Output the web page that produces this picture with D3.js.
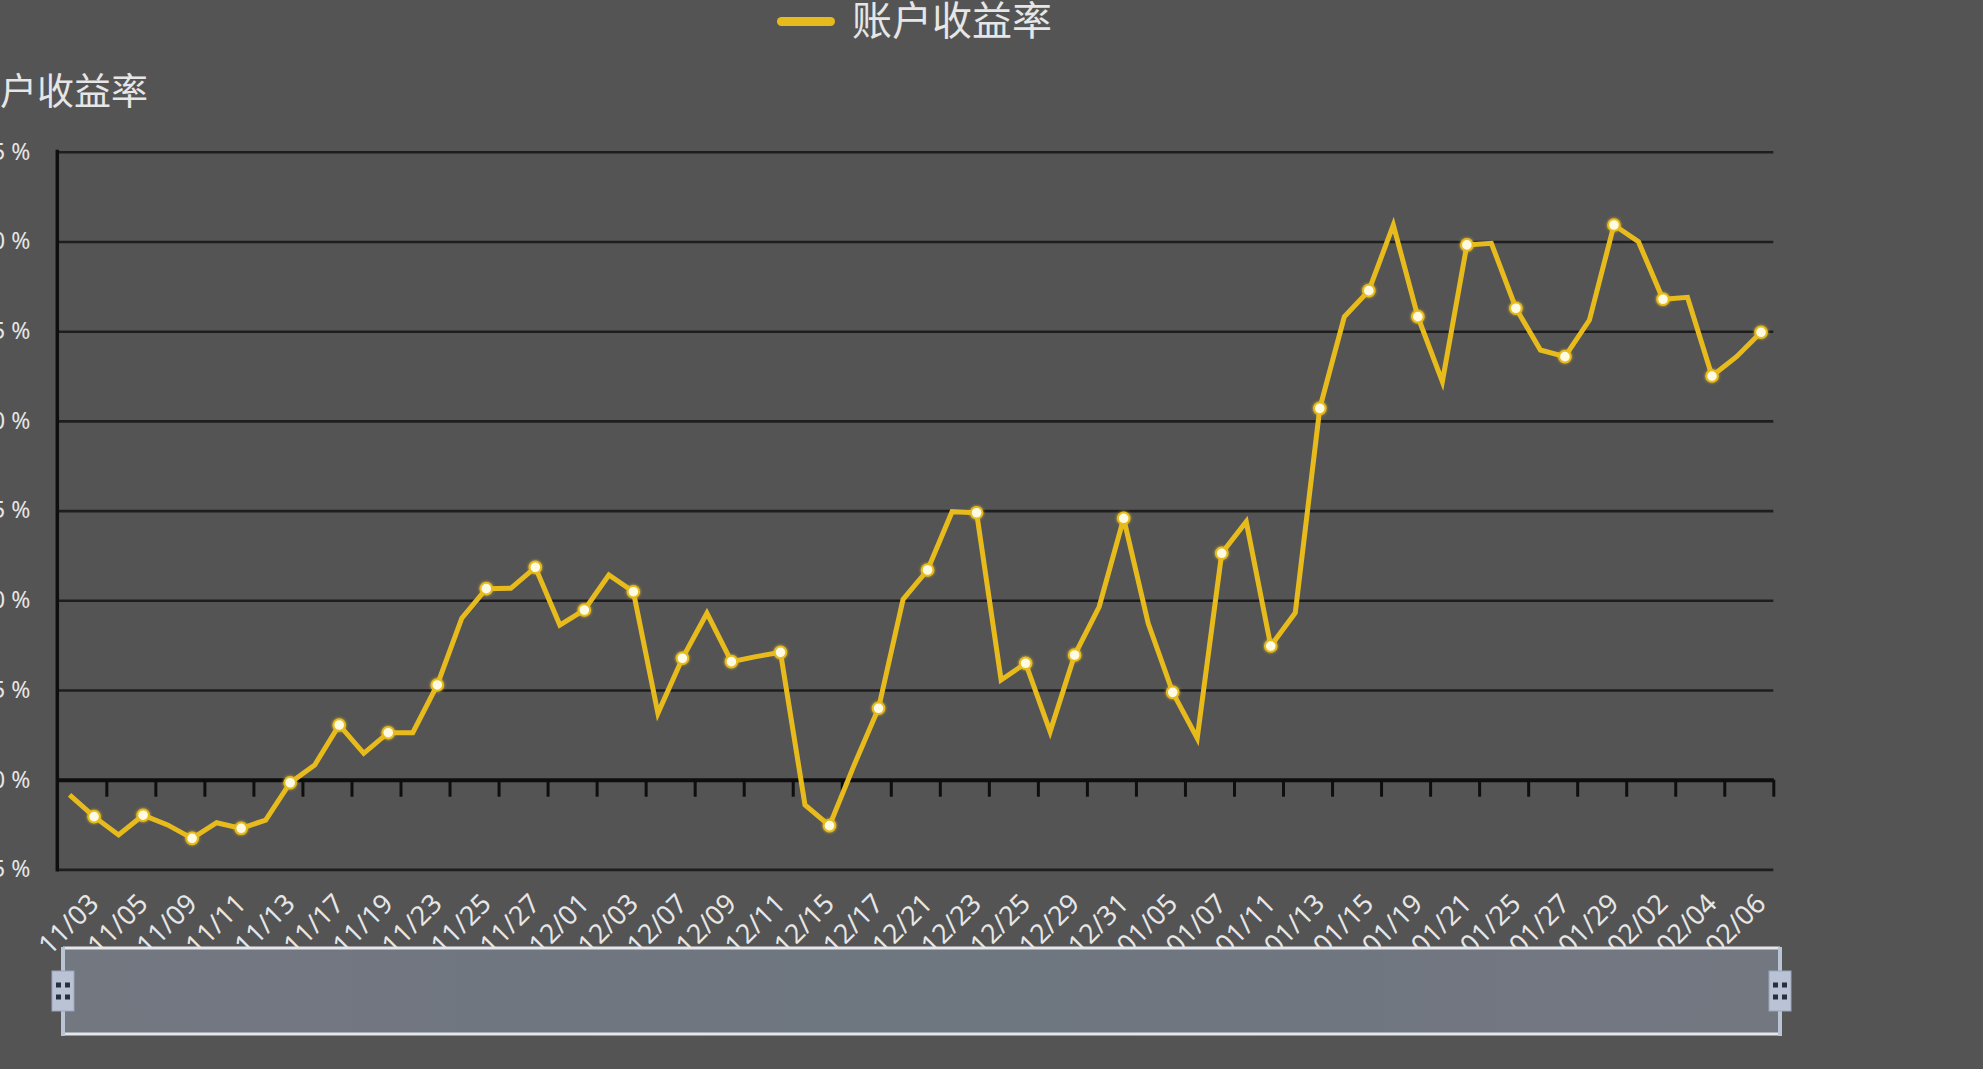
<!DOCTYPE html>
<html>
<head>
<meta charset="utf-8">
<script src="https://cdn.jsdelivr.net/npm/d3@7"></script>
<style>
  html, body { margin: 0; padding: 0; background: #545454; overflow: hidden; }
  svg { display: block; }
</style>
</head>
<body>
<svg id="chart" width="1983" height="1069"></svg>
<script>
// ---- data ----
const seriesName = "账户收益率";
const categories = [
  "11/02","11/03","11/04","11/05","11/06","11/09","11/10","11/11","11/12","11/13",
  "11/16","11/17","11/18","11/19","11/20","11/23","11/24","11/25","11/26","11/27",
  "11/30","12/01","12/02","12/03","12/04","12/07","12/08","12/09","12/10","12/11",
  "12/14","12/15","12/16","12/17","12/18","12/21","12/22","12/23","12/24","12/25",
  "12/28","12/29","12/30","12/31","01/04","01/05","01/06","01/07","01/08","01/11",
  "01/12","01/13","01/14","01/15","01/18","01/19","01/20","01/21","01/22","01/25",
  "01/26","01/27","01/28","01/29","02/01","02/02","02/03","02/04","02/05","02/06"
];
const values = [
  -0.85, -2.06, -3.08, -1.98, -2.52, -3.27, -2.40, -2.71, -2.25, -0.17,
   0.82,  3.05,  1.47,  2.62,  2.62,  5.28,  9.00, 10.65, 10.67, 11.84,
   8.62,  9.46, 11.41, 10.48,  3.70,  6.77,  9.28,  6.58,  6.86,  7.10,
  -1.41, -2.56,  0.80,  3.98, 10.05, 11.69, 14.94, 14.88,  5.56,  6.49,
   2.68,  6.95,  9.64, 14.57,  8.72,  4.87,  2.31, 12.62, 14.38,  7.45,
   9.30, 20.70, 25.80, 27.26, 30.92, 25.81, 22.19, 29.81, 29.90, 26.28,
  23.95, 23.58, 25.62, 30.92, 29.99, 26.78, 26.89, 22.50, 23.58, 24.94
];
const yTicks = [-5, 0, 5, 10, 15, 20, 25, 30, 35];
const xLabels = categories.filter((d, i) => i % 2 === 1);

// ---- layout ----
const svg = d3.select("#chart");
const W = 1983, H = 1069;
const plot = { left: 57.3, right: 1773.3, top: 151.8, bottom: 869.4 };
const lineColor = "#e8bb1d";
const textColor = "#e6e6e6";

svg.append("rect").attr("width", W).attr("height", H).attr("fill", "#545454");

const defs = svg.append("defs");
const glow = defs.append("filter").attr("id", "glow").attr("x", "-50%").attr("y", "-50%").attr("width", "200%").attr("height", "200%");
glow.append("feGaussianBlur").attr("in", "SourceAlpha").attr("stdDeviation", 1.6).attr("result", "b");
glow.append("feFlood").attr("flood-color", "#e9bd1e").attr("flood-opacity", 0.9);
glow.append("feComposite").attr("in2", "b").attr("operator", "in").attr("result", "g");
const gm = glow.append("feMerge");
gm.append("feMergeNode").attr("in", "g");
gm.append("feMergeNode").attr("in", "SourceGraphic");

const sliderGrad = defs.append("linearGradient").attr("id", "sliderGrad").attr("x1", 0).attr("x2", 1).attr("y1", 0).attr("y2", 0);
sliderGrad.append("stop").attr("offset", 0).attr("stop-color", "#737780");
sliderGrad.append("stop").attr("offset", 0.5).attr("stop-color", "#6e7680");
sliderGrad.append("stop").attr("offset", 1).attr("stop-color", "#737780");

const x = d3.scaleBand().domain(categories).range([plot.left, plot.right]).padding(0);
const bw = x.bandwidth();
const xIdx = d3.scaleLinear().domain([0, categories.length]).range([plot.left, plot.right]);
const y = d3.scaleLinear().domain([-5, 35]).range([plot.bottom, plot.top]);
const cx = c => x(c) + bw / 2;

// ---- y axis with grid ----
const yAxis = svg.append("g")
  .attr("transform", `translate(${plot.left},0)`)
  .call(d3.axisLeft(y).tickValues(yTicks).tickSize(-(plot.right - plot.left)).tickPadding(27)
        .tickFormat(d => d + " %"));
yAxis.select(".domain").remove();
yAxis.selectAll(".tick line").attr("stroke", "#1e1e1e").attr("stroke-width", 2.6);
yAxis.selectAll(".tick text")
  .attr("fill", textColor).attr("font-size", 23)
  .attr("font-family", "'Noto Sans', 'DejaVu Sans', sans-serif");

// y axis line
svg.append("line")
  .attr("x1", plot.left).attr("x2", plot.left)
  .attr("y1", plot.top - 2).attr("y2", plot.bottom + 2)
  .attr("stroke", "#0e0e0e").attr("stroke-width", 3.5);

// ---- x axis on zero ----
const tickVals = d3.range(2, categories.length + 1, 2);
const xAxis = svg.append("g")
  .attr("transform", `translate(0,${y(0)})`)
  .call(d3.axisBottom(xIdx).tickValues(tickVals).tickSize(17).tickSizeOuter(0).tickFormat(""));
xAxis.select(".domain").attr("stroke", "#0e0e0e").attr("stroke-width", 4);
xAxis.selectAll(".tick line").attr("stroke", "#0e0e0e").attr("stroke-width", 3);

// x labels
svg.append("g").selectAll("text")
  .data(xLabels)
  .join("text")
  .attr("transform", d => `translate(${cx(d) - 1},${898}) rotate(-45)`)
  .attr("text-anchor", "end")
  .attr("dominant-baseline", "central")
  .attr("fill", textColor)
  .attr("font-size", 27)
  .attr("font-family", "'Noto Sans', 'DejaVu Sans', sans-serif")
  .text(d => d);

// ---- series ----
const pts = categories.map((c, i) => ({ c, v: values[i], i }));
const line = d3.line().x(d => cx(d.c)).y(d => y(d.v));
svg.append("path")
  .datum(pts)
  .attr("d", line)
  .attr("fill", "none")
  .attr("stroke", lineColor)
  .attr("stroke-width", 5)
  .attr("stroke-linejoin", "miter")
  .attr("stroke-linecap", "butt");

svg.append("g").selectAll("circle")
  .data(pts.filter(d => d.i % 2 === 1))
  .join("circle")
  .attr("cx", d => cx(d.c))
  .attr("cy", d => y(d.v))
  .attr("r", 5.8)
  .attr("fill", "#fffbe3")
  .attr("stroke", lineColor)
  .attr("stroke-width", 2)
  .attr("filter", "url(#glow)");

// ---- legend ----
svg.append("rect")
  .attr("x", 777).attr("y", 17).attr("width", 58).attr("height", 9).attr("rx", 4.5)
  .attr("fill", lineColor);
svg.append("text")
  .attr("x", 852).attr("y", 18)
  .attr("dominant-baseline", "central")
  .attr("fill", textColor)
  .attr("font-size", 40)
  .attr("font-family", "'Noto Sans CJK SC', sans-serif")
  .text(seriesName);

// y axis name (clipped at left edge as in reference)
svg.append("text")
  .attr("x", -37).attr("y", 89)
  .attr("dominant-baseline", "central")
  .attr("fill", textColor)
  .attr("font-size", 37)
  .attr("font-family", "'Noto Sans CJK SC', sans-serif")
  .text(seriesName);

// ---- data zoom slider ----
const sl = { x0: 63, x1: 1780, y0: 948, y1: 1034 };
svg.append("rect")
  .attr("x", sl.x0).attr("y", sl.y0).attr("width", sl.x1 - sl.x0).attr("height", sl.y1 - sl.y0)
  .attr("fill", "url(#sliderGrad)");
svg.append("line").attr("x1", sl.x0).attr("x2", sl.x1).attr("y1", sl.y0).attr("y2", sl.y0)
  .attr("stroke", "#e4e6ea").attr("stroke-width", 3);
svg.append("line").attr("x1", sl.x0).attr("x2", sl.x1).attr("y1", sl.y1).attr("y2", sl.y1)
  .attr("stroke", "#e4e6ea").attr("stroke-width", 3);
[sl.x0, sl.x1].forEach(hx => {
  svg.append("line").attr("x1", hx).attr("x2", hx).attr("y1", sl.y0 - 1).attr("y2", sl.y1 + 2)
    .attr("stroke", "#b9c4d6").attr("stroke-width", 4);
  const g = svg.append("g").attr("transform", `translate(${hx},${(sl.y0 + sl.y1) / 2})`);
  g.append("rect").attr("x", -11).attr("y", -20).attr("width", 22).attr("height", 40)
    .attr("fill", "#b9c3d5").attr("stroke", "#9aa6ba").attr("stroke-width", 1);
  [-6, 6].forEach(dy => {
    g.append("rect").attr("x", -7).attr("y", dy - 2.5).attr("width", 5).attr("height", 5).attr("fill", "#27303d");
    g.append("rect").attr("x", 2).attr("y", dy - 2.5).attr("width", 5).attr("height", 5).attr("fill", "#27303d");
  });
});
</script>
</body>
</html>
